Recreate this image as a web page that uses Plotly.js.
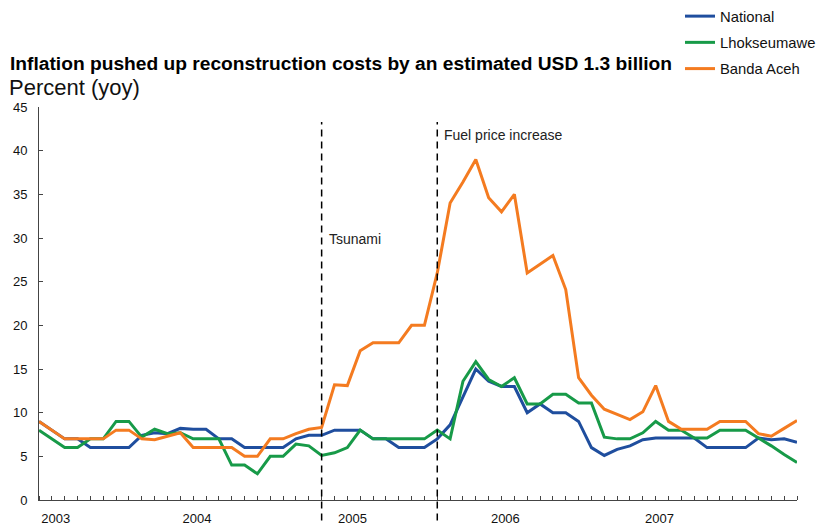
<!DOCTYPE html>
<html>
<head>
<meta charset="utf-8">
<script src="https://cdn.plot.ly/plotly-3.0.1.min.js"></script>
<style>html,body{margin:0;padding:0;background:#fff;}#chart{width:818px;height:526px;}</style>
</head>
<body>
<div id="chart"></div>
<script>
// Monthly series, Jan 2003 .. Dec 2007 (percent, yoy)
const national = [9, 8, 7, 7, 6, 6, 6, 6, 7.4, 7.7, 7.6, 8.2, 8.1, 8.1, 7, 7, 6, 6, 6, 6,
  7, 7.4, 7.4, 8, 8, 8, 7, 7, 6, 6, 6, 7, 8.6, 11.8, 15, 13.6, 13, 13, 10, 11,
  10, 10, 9, 6, 5.1, 5.8, 6.2, 6.9, 7.1, 7.1, 7.1, 7.1, 6, 6, 6, 6, 7.1, 6.9, 7.0, 6.6];
const lhokseumawe = [8, 7, 6, 6, 7, 7, 9, 9, 7.2, 8.1, 7.6, 7.7, 7, 7, 7, 4, 4, 3, 5, 5,
  6.4, 6.2, 5.1, 5.4, 6, 8, 7, 7, 7, 7, 7, 8, 7, 13.6, 15.85, 13.8, 13, 14, 11, 11,
  12.1, 12.1, 11.1, 11.1, 7.2, 7.0, 7.0, 7.7, 9, 8, 8, 7.1, 7.1, 8, 8, 8, 7.1, 6.2, 5.2, 4.3];
const bandaAceh = [9, 8, 7, 7, 7, 7, 8, 8, 7, 6.9, 7.3, 7.7, 6, 6, 6, 6, 5, 5, 7, 7,
  7.6, 8.1, 8.3, 13.2, 13.1, 17.1, 18, 18, 18, 20, 20, 26, 34, 36.4, 39, 34.6, 33, 35, 26, 27,
  28, 24.1, 14, 12, 10.4, 9.8, 9.2, 10.1, 13.1, 9, 8.1, 8.1, 8.1, 9, 9, 9, 7.6, 7.3, 8.2, 9.1];
const seriesNames = ["National", "Lhokseumawe", "Banda Aceh"];
const seriesColors = ["#1f4e9e", "#179a48", "#f47b20"];
const yearLabels = ["2003", "2004", "2005", "2006", "2007"];
const yearLabelPos = [1.3, 12.3, 24.4, 36.3, 48.3];
const eventNames = ["Tsunami", "Fuel price increase"];
const eventMonth = [22, 31];

const monthIdx = national.map((_, i) => i);
const FONT = "Arial, 'Liberation Sans', sans-serif";

const traces = [national, lhokseumawe, bandaAceh].map((ys, k) => ({
  x: monthIdx, y: ys, type: "scatter", mode: "lines",
  name: seriesNames[k], legendgroup: "g" + k,
  line: {color: seriesColors[k], width: 3}
}));

const shapes = eventMonth.map(m => ({
  type: "line", xref: "x", yref: "paper", x0: m, x1: m, y0: -0.052, y1: 0.962,
  line: {color: "#000", width: 1.5, dash: "7px,5px"}
}));

const annotations = [
  {text: eventNames[0], xref: "x", yref: "paper", x: eventMonth[0], xshift: 5, y: 0.665,
   xanchor: "left", yanchor: "middle", showarrow: false, font: {size: 14, color: "#222", family: FONT}},
  {text: eventNames[1], xref: "x", yref: "paper", x: eventMonth[1], xshift: 5, y: 0.93,
   xanchor: "left", yanchor: "middle", showarrow: false, font: {size: 14, color: "#222", family: FONT}},
  {text: "Percent (yoy)", xref: "paper", yref: "paper", x: -0.0386, xshift: -3, y: 1.0466, yshift: 1,
   xanchor: "left", yanchor: "middle", showarrow: false, font: {size: 22, color: "#111", family: FONT}}
];

const layout = {
  width: 818, height: 526,
  margin: {l: 39.3, r: 20.5, t: 107.3, b: 26, pad: 0, autoexpand: false},
  paper_bgcolor: "#fff", plot_bgcolor: "#fff",
  font: {family: FONT, size: 13, color: "#111"},
  title: {text: "<b>Inflation pushed up reconstruction costs by an estimated USD 1.3 billion</b>",
    xref: "container", yref: "container", x: 10/818, xanchor: "left", y: 1 - 63/526, yanchor: "middle",
    font: {size: 19.2, color: "#000", family: FONT}},
  xaxis: {range: [0, 59], showgrid: false, zeroline: false, showline: true, linecolor: "#444", linewidth: 1,
    tickmode: "array", tickvals: yearLabelPos, ticktext: yearLabels, ticks: "", ticklabelstandoff: 6,
    tickfont: {size: 13, color: "#111"},
    minor: {tickmode: "linear", tick0: 0, dtick: 1, ticks: "inside", ticklen: 4, tickcolor: "#444", tickwidth: 1, showgrid: false}},
  yaxis: {range: [0, 45], dtick: 5, tick0: 0, showgrid: false, zeroline: false, showline: true, linecolor: "#444", linewidth: 1,
    ticks: "inside", ticklen: 4, tickcolor: "#444", ticklabelstandoff: 8, tickfont: {size: 13, color: "#111"}},
  showlegend: true,
  legend: {xref: "container", yref: "container", x: 680/818, y: 1, yshift: 1, xanchor: "left", yanchor: "top",
    traceorder: "grouped", tracegroupgap: 4, font: {size: 14.8, color: "#111"}, bgcolor: "rgba(0,0,0,0)"},
  shapes: shapes,
  annotations: annotations
};

Plotly.newPlot("chart", traces, layout, {displayModeBar: false, staticPlot: true});
</script>
</body>
</html>
